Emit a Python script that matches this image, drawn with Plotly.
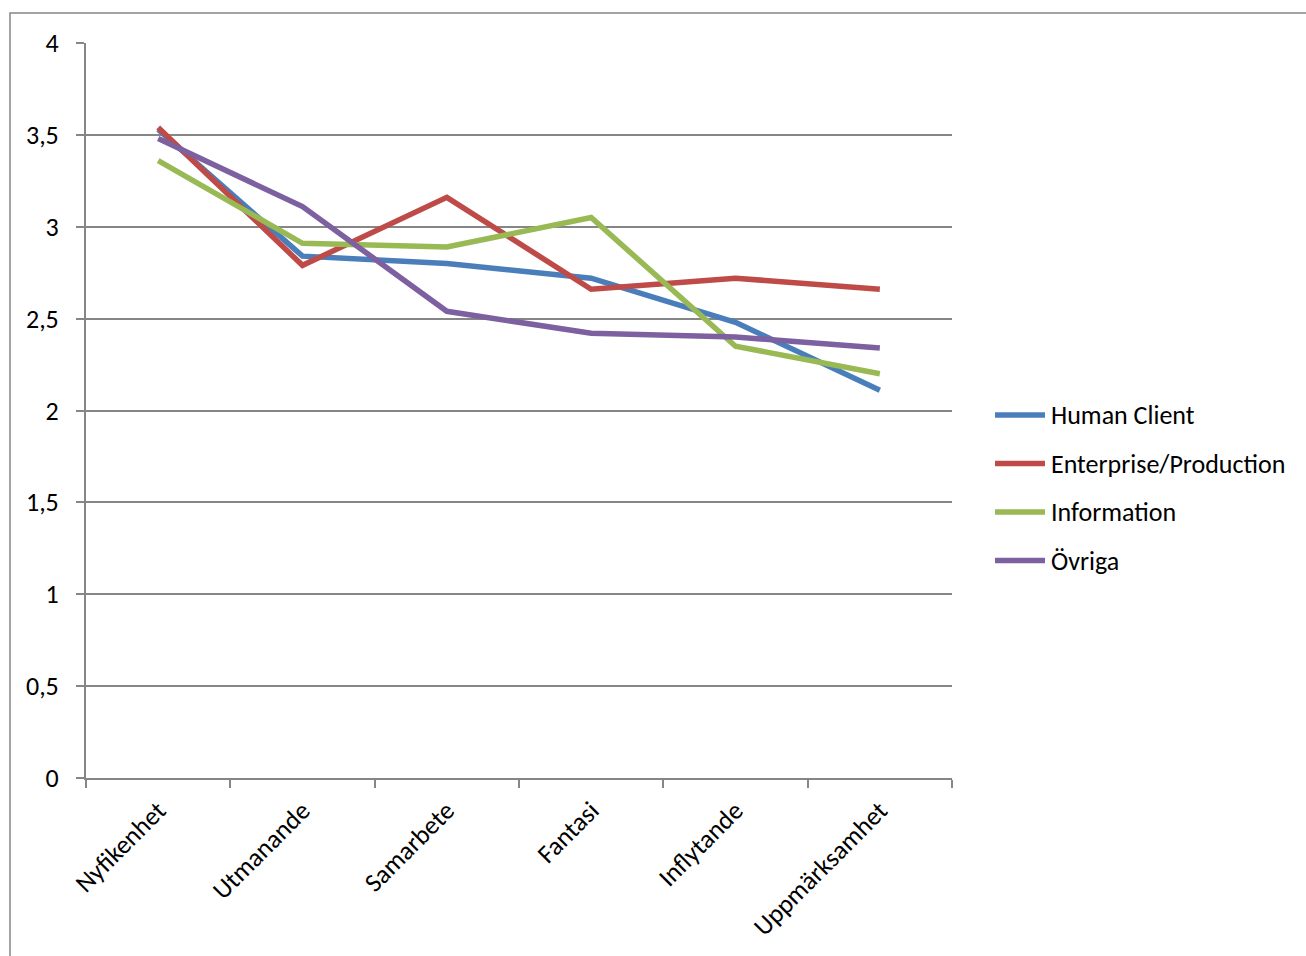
import plotly.graph_objects as go

# Survey dimensions (x categories)
categories = ["Nyfikenhet", "Utmanande", "Samarbete", "Fantasi", "Inflytande", "Uppmärksamhet"]

# Mean scores per group
human_client = [3.53, 2.84, 2.80, 2.72, 2.48, 2.11]
enterprise_production = [3.54, 2.79, 3.16, 2.66, 2.72, 2.66]
information = [3.36, 2.91, 2.89, 3.05, 2.35, 2.20]
ovriga = [3.48, 3.11, 2.54, 2.42, 2.40, 2.34]

series_names = ["Human Client", "Enterprise/Production", "Information", "Övriga"]
series_values = [human_client, enterprise_production, information, ovriga]
series_colors = ["#4A7EBB", "#BE4B48", "#98B954", "#7D60A0"]

y_tick_vals = [0, 0.5, 1, 1.5, 2, 2.5, 3, 3.5, 4]
y_tick_text = ["0", "0,5", "1", "1,5", "2", "2,5", "3", "3,5", "4"]

W, H = 1306, 956
ML, MR, MT, MB = 86, 354, 43, 178
FONT = "Carlito, Lato, 'Open Sans', sans-serif"
FSIZE = 26
GRID = "#868686"
LINE_W = 5.5

fig = go.Figure()
for name, vals, col in zip(series_names, series_values, series_colors):
    fig.add_trace(go.Scatter(
        x=categories, y=vals, name=name, mode="lines",
        line=dict(color=col, width=LINE_W),
        showlegend=False,
    ))

pw, ph = W - ML - MR, H - MT - MB
def px_x(v):
    return (v - ML) / pw
def px_y(v):
    return (H - MB - v) / ph

# Outer chart frame (extends past the right and bottom page edges)
fig.add_shape(
    type="path", xref="paper", yref="paper",
    path=f"M {px_x(10)},{px_y(H + 10)} L {px_x(10)},{px_y(13)} L {px_x(W + 10)},{px_y(13)}",
    line=dict(color=GRID, width=1.5),
)

# Legend: a short line sample followed by the series name
legend_top, legend_step = 415, 48.5
for i, (name, col) in enumerate(zip(series_names, series_colors)):
    yy = px_y(legend_top + i * legend_step)
    fig.add_shape(
        type="line", xref="paper", yref="paper",
        x0=px_x(995), x1=px_x(1045), y0=yy, y1=yy,
        line=dict(color=col, width=LINE_W),
    )
    fig.add_annotation(
        xref="paper", yref="paper", x=px_x(1049), y=yy,
        xanchor="left", yanchor="middle", showarrow=False,
        text=name, font=dict(family=FONT, size=FSIZE, color="black"),
    )

fig.update_layout(
    width=W, height=H,
    margin=dict(l=ML, r=MR, t=MT, b=MB),
    paper_bgcolor="white", plot_bgcolor="white",
    font=dict(family=FONT, size=FSIZE, color="black"),
    showlegend=False,
    xaxis=dict(
        type="category", tickson="boundaries",
        showline=True, linecolor=GRID, linewidth=2,
        ticks="outside", ticklen=8, tickcolor=GRID, tickwidth=2,
        tickangle=-45, showgrid=False,
        ticklabelstandoff=5,
        tickfont=dict(family=FONT, size=FSIZE, color="black"),
        range=[-0.5, 5.5],
    ),
    yaxis=dict(
        range=[0, 4], tickvals=y_tick_vals, ticktext=y_tick_text,
        showline=True, linecolor=GRID, linewidth=2,
        ticks="outside", ticklen=8, tickcolor=GRID, tickwidth=2,
        showgrid=True, gridcolor=GRID, gridwidth=1.5,
        zeroline=False,
        ticklabelstandoff=12,
        tickfont=dict(family=FONT, size=FSIZE, color="black"),
    ),
)

fig.write_html("out.html")
